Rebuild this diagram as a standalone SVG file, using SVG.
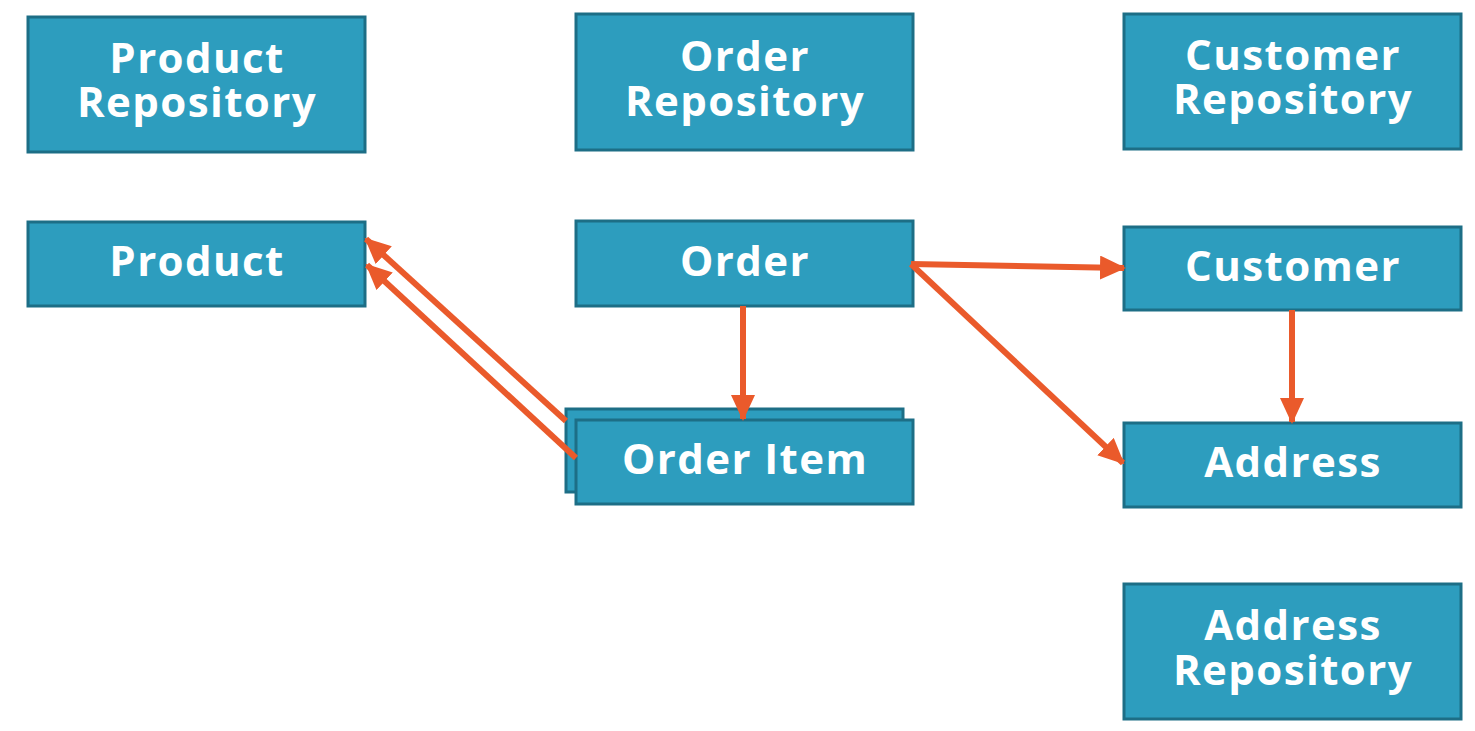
<svg xmlns="http://www.w3.org/2000/svg" width="1475" height="731" viewBox="0 0 1475 731">
<style>
.box{fill:#2d9dbe;stroke:#1d6e86;stroke-width:3}
.lbl{font-family:"Open Sans","Liberation Sans",sans-serif;font-weight:700;font-size:42px;letter-spacing:1.4px;fill:#ffffff;text-anchor:middle}
.conn{stroke:#ea5a2b;stroke-width:6;fill:none}
</style>
<defs>
<marker id="ah" markerUnits="userSpaceOnUse" markerWidth="26" markerHeight="24" refX="24" refY="12" orient="auto">
<path d="M0,0 L26,12 L0,24 Z" fill="#ea5a2b"/>
</marker>
</defs>
<rect width="1475" height="731" fill="#ffffff"/>
<g id="product-repository"><rect class="box" x="28" y="17" width="337" height="135"/><text class="lbl"><tspan x="197" y="73">Product</tspan><tspan x="197" y="117">Repository</tspan></text></g>
<g id="order-repository"><rect class="box" x="576" y="14" width="337" height="136"/><text class="lbl"><tspan x="745" y="71">Order</tspan><tspan x="745" y="116">Repository</tspan></text></g>
<g id="customer-repository"><rect class="box" x="1124" y="14" width="337" height="135"/><text class="lbl"><tspan x="1293" y="70">Customer</tspan><tspan x="1293" y="114">Repository</tspan></text></g>
<g id="product"><rect class="box" x="28" y="222" width="337" height="84"/><text class="lbl" x="197" y="276">Product</text></g>
<g id="order"><rect class="box" x="576" y="221" width="337" height="85"/><text class="lbl" x="745" y="276">Order</text></g>
<g id="customer"><rect class="box" x="1124" y="227" width="337" height="83"/><text class="lbl" x="1293" y="281">Customer</text></g>
<g id="order-item"><rect class="box" x="566" y="409" width="337" height="83"/><rect class="box" x="576" y="420" width="337" height="84"/><text class="lbl" x="745" y="474">Order Item</text></g>
<g id="address"><rect class="box" x="1124" y="423" width="337" height="84"/><text class="lbl" x="1293" y="477">Address</text></g>
<g id="address-repository"><rect class="box" x="1124" y="584" width="337" height="135"/><text class="lbl"><tspan x="1293" y="640">Address</tspan><tspan x="1293" y="685">Repository</tspan></text></g>
<g id="connectors">
<line class="conn" x1="566" y1="421" x2="366" y2="239" marker-end="url(#ah)"/>
<line class="conn" x1="576" y1="458" x2="367" y2="265" marker-end="url(#ah)"/>
<line class="conn" x1="743" y1="306" x2="743" y2="419" marker-end="url(#ah)"/>
<line class="conn" x1="911" y1="264" x2="1124" y2="268" marker-end="url(#ah)"/>
<line class="conn" x1="911" y1="264" x2="1123" y2="463" marker-end="url(#ah)"/>
<line class="conn" x1="1292" y1="310" x2="1292" y2="422" marker-end="url(#ah)"/>
</g>
</svg>
